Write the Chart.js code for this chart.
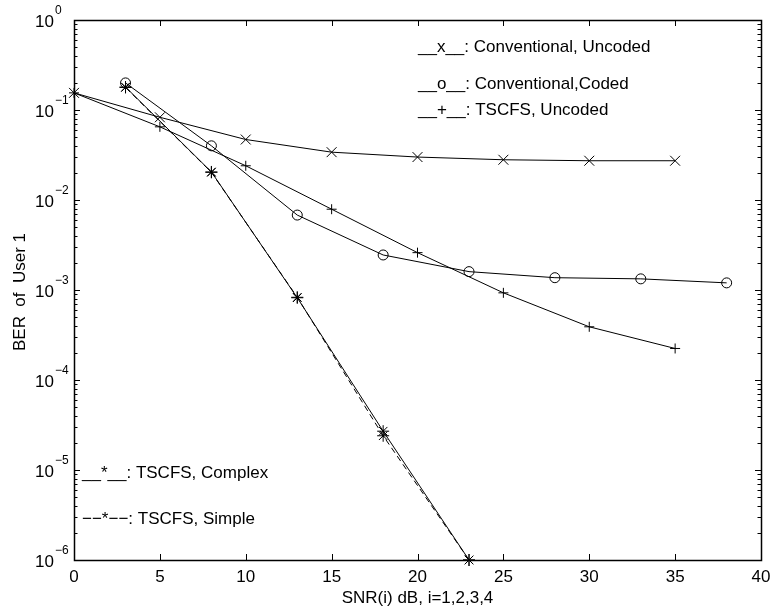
<!DOCTYPE html>
<html>
<head>
<meta charset="utf-8">
<script src="https://cdn.jsdelivr.net/npm/chart.js@4.4.4/dist/chart.umd.min.js"></script>
<style>
  html, body { margin: 0; padding: 0; background: #fff; }
  #wrap { width: 774px; height: 612px; position: relative; }
</style>
</head>
<body>
<div id="wrap"><canvas id="ber"></canvas></div>
<script>
// SNR grids (dB) used by the different curves
const snrUncoded = [0, 5, 10, 15, 20, 25, 30, 35];
const snrCoded = [3, 8, 13, 18, 23, 28, 33, 38];
const snrTscfs = [3, 8, 13, 18, 23];

// BER of user 1
const berConvUncoded = [0.155, 0.083, 0.047, 0.034, 0.030, 0.028, 0.0273, 0.0273];
const berConvCoded = [0.2, 0.04, 0.0068, 0.00245, 0.0016, 0.00137, 0.00133, 0.0012];
const berTscfsUncoded = [0.155, 0.065, 0.024, 0.0079, 0.0026, 0.00093, 0.00039, 0.000224];
const berTscfsComplex = [0.18, 0.0205, 0.00082, 0.000027, 0.000001];
const berTscfsSimple = [0.178, 0.0203, 0.00083, 0.000024, 0.000001];

const xTicks = [0, 5, 10, 15, 20, 25, 30, 35, 40];
const yExponents = [0, -1, -2, -3, -4, -5, -6];

const notesTopRight = ['__x__: Conventional, Uncoded', '__o__: Conventional,Coded', '__+__: TSCFS, Uncoded'];
const notesBottomLeft = ['__*__: TSCFS, Complex', '\u2212\u2212*\u2212\u2212: TSCFS, Simple'];

const FONT = '"Liberation Sans", Arial, Helvetica, sans-serif';

function pts(xs, ys) {
  return xs.map((x, i) => ({ x, y: ys[i] }));
}

function series(label, xs, ys, style, extra) {
  return Object.assign({
    label,
    data: pts(xs, ys),
    borderColor: '#000',
    backgroundColor: 'transparent',
    borderWidth: 1,
    pointStyle: style,
    pointRadius: 5,
    pointBorderColor: '#000',
    pointBackgroundColor: 'transparent',
    pointBorderWidth: 1,
    tension: 0,
    clip: false,
  }, extra || {});
}

// frame, inward ticks, labels and the text notes, all placed off the chart's scales
const matlabAxes = {
  id: 'matlabAxes',
  afterDraw(chart) {
    const { ctx, chartArea: a, scales } = chart;
    const xs = scales.x, ys = scales.y;
    ctx.save();
    ctx.strokeStyle = '#000';
    ctx.lineWidth = 1.5;
    ctx.strokeRect(a.left + 0.5, a.top + 0.5, a.right - a.left, a.bottom - a.top);

    ctx.lineWidth = 1;
    ctx.beginPath();
    xTicks.forEach((v) => {
      const px = Math.round(xs.getPixelForValue(v)) + 0.5;
      ctx.moveTo(px, a.bottom); ctx.lineTo(px, a.bottom - 6);
      ctx.moveTo(px, a.top); ctx.lineTo(px, a.top + 6);
    });
    yExponents.forEach((e) => {
      for (let m = 1; m <= 9; m++) {
        const v = m * Math.pow(10, e);
        if (v > 1.0001 || v < 0.9999e-6) continue;
        const py = Math.round(ys.getPixelForValue(v)) + 0.5;
        const len = m === 1 ? 6 : 3.5;
        ctx.moveTo(a.left, py); ctx.lineTo(a.left + len, py);
        ctx.moveTo(a.right, py); ctx.lineTo(a.right - len, py);
      }
    });
    ctx.stroke();

    ctx.fillStyle = '#000';
    ctx.font = `17px ${FONT}`;
    ctx.textAlign = 'center';
    ctx.textBaseline = 'middle';
    xTicks.forEach((v) => ctx.fillText(String(v), xs.getPixelForValue(v), a.bottom + 17));

    yExponents.forEach((e) => {
      const py = ys.getPixelForValue(Math.pow(10, e));
      ctx.font = `17px ${FONT}`;
      ctx.textAlign = 'left';
      ctx.fillText('10', a.left - 39, py + 2);
      ctx.font = `12px ${FONT}`;
      ctx.fillText(e === 0 ? '0' : '\u2212' + Math.abs(e), a.left - 19, py - 9);
    });

    ctx.font = `17px ${FONT}`;
    ctx.textAlign = 'center';
    ctx.fillText('SNR(i) dB, i=1,2,3,4', (a.left + a.right) / 2, a.bottom + 38);
    ctx.save();
    ctx.translate(20, (a.top + a.bottom) / 2 + 2);
    ctx.rotate(-Math.PI / 2);
    ctx.fillText('BER  of  User 1', 0, 0);
    ctx.restore();

    ctx.textAlign = 'left';
    const trY = [47, 84, 110];
    notesTopRight.forEach((t, i) => ctx.fillText(t, 418, trY[i]));
    const blY = [473, 519];
    notesBottomLeft.forEach((t, i) => ctx.fillText(t, 82, blY[i]));
    ctx.restore();
  },
};

new Chart(document.getElementById('ber'), {
  type: 'line',
  data: {
    datasets: [
      series('Conventional, Uncoded', snrUncoded, berConvUncoded, 'crossRot', { pointRadius: 7 }),
      series('Conventional, Coded', snrCoded, berConvCoded, 'circle'),
      series('TSCFS, Uncoded', snrUncoded, berTscfsUncoded, 'cross'),
      series('TSCFS, Complex', snrTscfs, berTscfsComplex, 'star', { pointRadius: 6 }),
      series('TSCFS, Simple', snrTscfs, berTscfsSimple, 'star', { pointRadius: 6, borderDash: [6, 4] }),
    ],
  },
  options: {
    responsive: true,
    maintainAspectRatio: false,
    animation: false,
    layout: { padding: { left: 74, top: 20, right: 13, bottom: 52 } },
    plugins: { legend: { display: false }, tooltip: { enabled: false } },
    scales: {
      x: { type: 'linear', min: 0, max: 40, display: false },
      y: { type: 'logarithmic', min: 1e-6, max: 1, display: false },
    },
  },
  plugins: [matlabAxes],
});
</script>
</body>
</html>
